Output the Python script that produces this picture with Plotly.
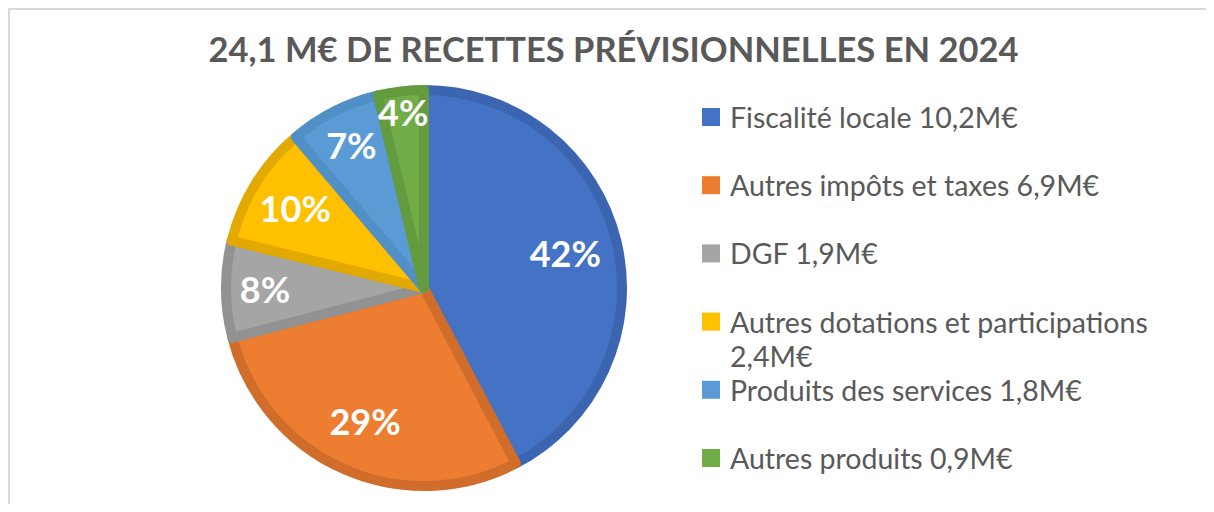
import plotly.graph_objects as go

# Page body has an 8px default margin; work in reference-pixel coordinates
OFF = 8
W, H = 1214 - 2 * OFF, 512 - 2 * OFF

title = "24,1 M€ DE RECETTES PRÉVISIONNELLES EN 2024"
categories = ["Fiscalité locale", "Autres impôts et taxes", "DGF",
              "Autres dotations et participations", "Produits des services",
              "Autres produits"]
values = [10.2, 6.9, 1.9, 2.4, 1.8, 0.9]
value_labels = ["10,2M€", "6,9M€", "1,9M€", "2,4M€", "1,8M€", "0,9M€"]
legend_labels = ["Fiscalité locale 10,2M€", "Autres impôts et taxes 6,9M€",
                 "DGF 1,9M€", "Autres dotations et participations<br>2,4M€",
                 "Produits des services 1,8M€", "Autres produits 0,9M€"]
fill_colors = ["#4472C4", "#ED7D31", "#A5A5A5", "#FFC000", "#5B9BD5", "#70AD47"]
edge_colors = ["#3B65B0", "#D06D2B", "#929292", "#E2AA00", "#5090C6", "#639B3E"]

FONT = "Lato"
TEXT_GRAY = "#595959"


def px(x):
    return (x - OFF) / W


def py(y):
    return 1 - (y - OFF) / H


fig = go.Figure()

cx, cy, R = 424, 288, 198
dom = dict(x=[px(cx - R), px(cx + R)], y=[py(cy + R), py(cy - R)])

fig.add_trace(go.Pie(
    labels=categories, values=values, sort=False,
    direction="clockwise", rotation=0,
    marker=dict(colors=fill_colors, line=dict(color=edge_colors, width=10)),
    textinfo="none", domain=dom, showlegend=False,
    hoverinfo="label+value+percent",
))

# transparent ring carrying the percentage labels (places them in the outer part)
fig.add_trace(go.Pie(
    labels=categories, values=values, sort=False,
    direction="clockwise", rotation=0, hole=0.47,
    marker=dict(colors=["rgba(0,0,0,0)"] * len(values), line=dict(width=0)),
    texttemplate="%{percent:.0%}",
    textposition="inside",
    insidetextorientation="horizontal",
    textfont=dict(family=FONT, size=36, color="white", weight="bold"),
    domain=dom, showlegend=False, hoverinfo="skip",
))

# Custom legend (Excel-style evenly spaced entries)
y0, step = 117, 68.2
sq = 18
text_x = 728
for i, (lab, col) in enumerate(zip(legend_labels, fill_colors)):
    yc = y0 + i * step
    fig.add_shape(type="rect", xref="paper", yref="paper",
                  x0=px(text_x - 26), x1=px(text_x - 26 + sq),
                  y0=py(yc + sq / 2), y1=py(yc - sq / 2),
                  fillcolor=col, line=dict(width=0))
    lines = lab.split("<br>")
    for j, line in enumerate(lines):
        fig.add_annotation(x=px(text_x), y=py(yc + j * 34), xref="paper", yref="paper",
                           xanchor="left", yanchor="middle", align="left",
                           text=line, showarrow=False,
                           font=dict(family=FONT, size=28.5, color=TEXT_GRAY))

# light chart-area frame (top and left edges visible in the reference)
fig.add_shape(type="line", xref="paper", yref="paper", x0=0, x1=1,
              y0=1 - 1 / H, y1=1 - 1 / H, line=dict(color="#D9D9D9", width=2))
fig.add_shape(type="line", xref="paper", yref="paper", x0=1 / W, x1=1 / W,
              y0=0, y1=1, line=dict(color="#D9D9D9", width=2))

fig.update_layout(
    width=W, height=H,
    margin=dict(l=0, r=0, t=0, b=0),
    paper_bgcolor="white",
    plot_bgcolor="white",
    title=dict(text=title, x=px(613.5), xanchor="center",
               y=py(50), yanchor="middle", yref="container",
               font=dict(family=FONT, size=34.5, color=TEXT_GRAY, weight="bold")),
    uniformtext=dict(minsize=36, mode="show"),
)

fig.write_html("out.html")
